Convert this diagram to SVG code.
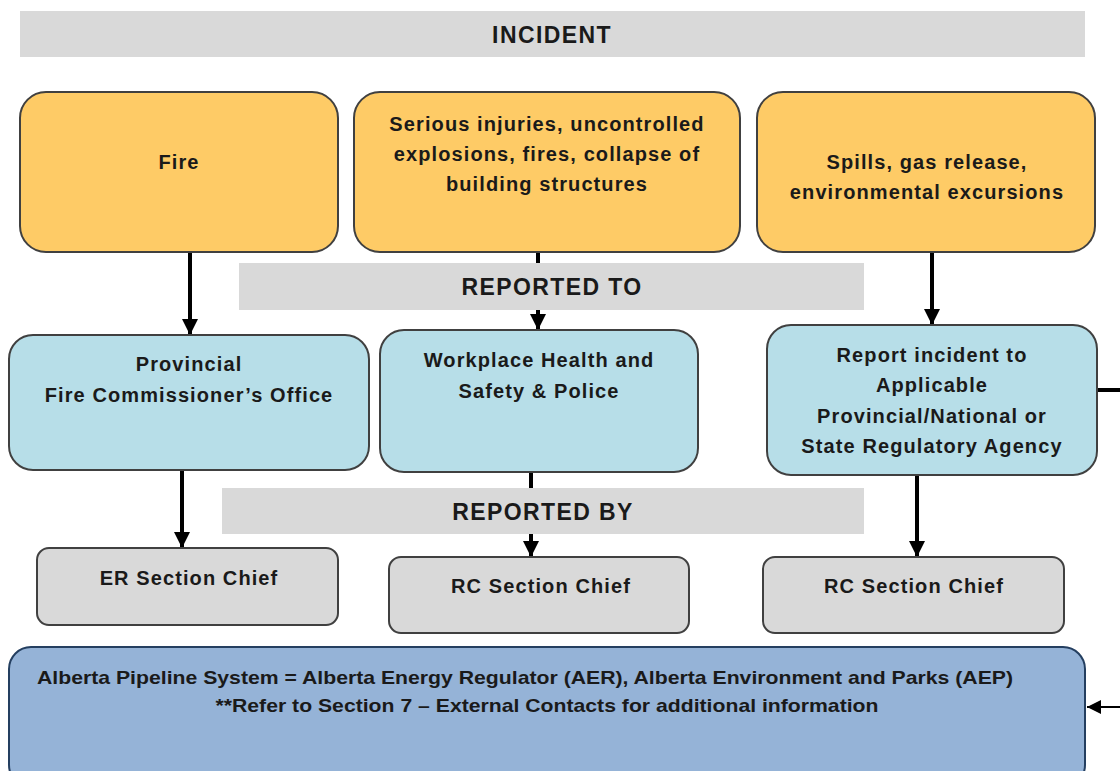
<svg xmlns="http://www.w3.org/2000/svg" width="1120" height="771" viewBox="0 0 1120 771">
<style>
.band{fill:#d9d9d9}
.yel{fill:#fecb66;stroke:#404040;stroke-width:2}
.blu{fill:#b7dee8;stroke:#404040;stroke-width:2}
.gry{fill:#d9d9d9;stroke:#404040;stroke-width:2}
.bot{fill:#95b3d7;stroke:#243f60;stroke-width:2}
text{font-family:"Liberation Sans",Arial,sans-serif;font-weight:bold;fill:#1a1a1a;text-anchor:middle}
.t{font-size:20px;letter-spacing:1.1px}
.h{font-size:23px;letter-spacing:1.4px}
.s{font-size:19px}
.c{stroke:#000;stroke-width:4;fill:none}
.c2{stroke:#000;stroke-width:2;fill:none}
</style>
<defs>
<marker id="ah" markerUnits="userSpaceOnUse" markerWidth="18" markerHeight="16" refX="16" refY="8" orient="auto">
<path d="M0,0 L16,8 L0,16 Z" fill="#000"/>
</marker>
<marker id="ah2" markerUnits="userSpaceOnUse" markerWidth="16" markerHeight="14" refX="14" refY="7" orient="auto">
<path d="M0,0 L14,7 L0,14 Z" fill="#000"/>
</marker>
</defs>
<rect width="1120" height="771" fill="#fff"/>
<g id="connectors">
<line class="c" x1="190" y1="252" x2="190" y2="335" marker-end="url(#ah)"/>
<line class="c" x1="538" y1="252" x2="538" y2="330" marker-end="url(#ah)"/>
<line class="c" x1="932" y1="252" x2="932" y2="325" marker-end="url(#ah)"/>
<line class="c" x1="182" y1="470" x2="182" y2="548" marker-end="url(#ah)"/>
<line class="c" x1="531" y1="472" x2="531" y2="557" marker-end="url(#ah)"/>
<line class="c" x1="917" y1="475" x2="917" y2="557" marker-end="url(#ah)"/>
<line class="c" x1="1097" y1="390" x2="1122" y2="390"/>
<line class="c2" x1="1122" y1="707" x2="1087" y2="707" marker-end="url(#ah2)"/>
</g>
<g id="incident">
<rect class="band" x="20" y="11" width="1065" height="46"/>
<text class="h" x="552" y="43">INCIDENT</text>
</g>
<g id="fire">
<rect class="yel" x="20" y="92" width="318" height="160" rx="26"/>
<text class="t" x="179" y="169">Fire</text>
</g>
<g id="serious">
<rect class="yel" x="354" y="92" width="386" height="160" rx="26"/>
<text class="t" x="547" y="131">Serious injuries, uncontrolled</text>
<text class="t" x="547" y="161">explosions, fires, collapse of</text>
<text class="t" x="547" y="191">building structures</text>
</g>
<g id="spills">
<rect class="yel" x="757" y="92" width="338" height="160" rx="26"/>
<text class="t" x="927" y="169">Spills, gas release,</text>
<text class="t" x="927" y="199">environmental excursions</text>
</g>
<g id="reported-to">
<rect class="band" x="239" y="263" width="625" height="47"/>
<text class="h" x="552" y="295">REPORTED TO</text>
</g>
<g id="fire-commissioner">
<rect class="blu" x="9" y="335" width="360" height="135" rx="24"/>
<text class="t" x="189" y="371">Provincial</text>
<text class="t" x="189" y="402">Fire Commissioner’s Office</text>
</g>
<g id="workplace">
<rect class="blu" x="380" y="330" width="318" height="142" rx="24"/>
<text class="t" x="539" y="367">Workplace Health and</text>
<text class="t" x="539" y="398">Safety &amp; Police</text>
</g>
<g id="regulatory">
<rect class="blu" x="767" y="325" width="330" height="150" rx="24"/>
<text class="t" x="932" y="362">Report incident to</text>
<text class="t" x="932" y="392">Applicable</text>
<text class="t" x="932" y="423">Provincial/National or</text>
<text class="t" x="932" y="453">State Regulatory Agency</text>
</g>
<g id="reported-by">
<rect class="band" x="222" y="488" width="642" height="46"/>
<text class="h" x="543" y="520">REPORTED BY</text>
</g>
<g id="er-chief">
<rect class="gry" x="37" y="548" width="301" height="77" rx="12"/>
<text class="t" x="189" y="585">ER Section Chief</text>
</g>
<g id="rc-chief-1">
<rect class="gry" x="389" y="557" width="300" height="76" rx="12"/>
<text class="t" x="541" y="593">RC Section Chief</text>
</g>
<g id="rc-chief-2">
<rect class="gry" x="763" y="557" width="301" height="76" rx="12"/>
<text class="t" x="914" y="593">RC Section Chief</text>
</g>
<g id="alberta">
<rect class="bot" x="9" y="647" width="1076" height="140" rx="22"/>
<text class="s" x="37" y="684" style="text-anchor:start" textLength="976" lengthAdjust="spacingAndGlyphs">Alberta Pipeline System = Alberta Energy Regulator (AER), Alberta Environment and Parks (AEP)</text>
<text class="s" x="547" y="712" textLength="663" lengthAdjust="spacingAndGlyphs">**Refer to Section 7 – External Contacts for additional information</text>
</g>
</svg>
